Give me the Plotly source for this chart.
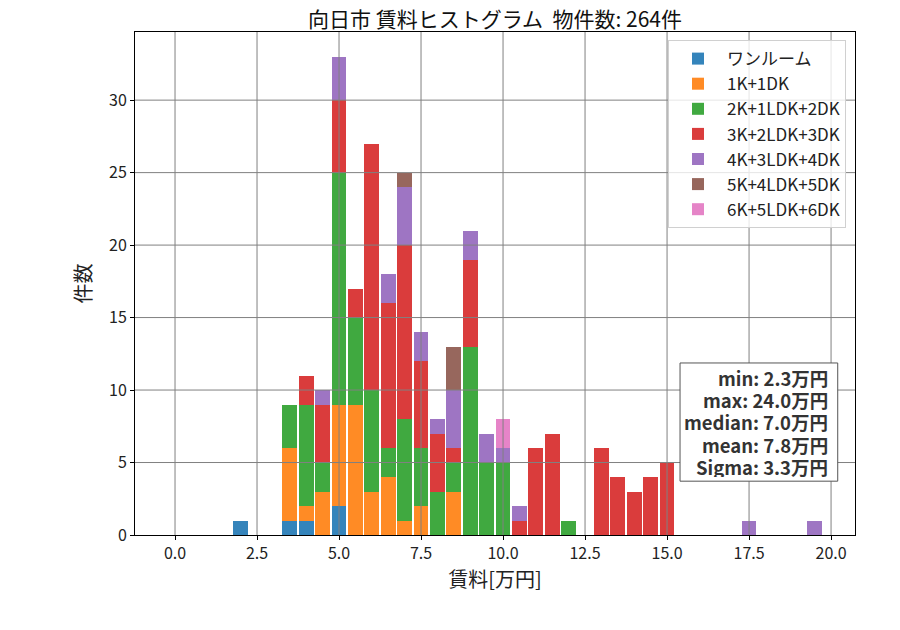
import plotly.graph_objects as go

# bin centers [万円]
bins = [2.0, 2.5, 3.0, 3.5, 4.0, 4.5, 5.0, 5.5, 6.0, 6.5, 7.0, 7.5,
        8.0, 8.5, 9.0, 9.5, 10.0, 10.5, 11.0, 11.5, 12.0, 12.5, 13.0, 13.5,
        14.0, 14.5, 15.0, 15.5, 16.0, 16.5, 17.0, 17.5, 18.0, 18.5, 19.0, 19.5]

oneroom = [1, 0, 0, 1, 1, 0, 2, 0, 0, 0, 0, 0, 0, 0, 0, 0, 0, 0,
           0, 0, 0, 0, 0, 0, 0, 0, 0, 0, 0, 0, 0, 0, 0, 0, 0, 0]
k1 = [0, 0, 0, 5, 1, 3, 7, 9, 3, 4, 1, 2, 0, 3, 0, 0, 0, 0,
      0, 0, 0, 0, 0, 0, 0, 0, 0, 0, 0, 0, 0, 0, 0, 0, 0, 0]
k2 = [0, 0, 0, 3, 7, 2, 16, 6, 7, 2, 7, 4, 3, 2, 13, 5, 5, 0,
      0, 0, 1, 0, 0, 0, 0, 0, 0, 0, 0, 0, 0, 0, 0, 0, 0, 0]
k3 = [0, 0, 0, 0, 2, 4, 5, 2, 17, 10, 12, 6, 4, 1, 6, 0, 0, 1,
      6, 7, 0, 0, 6, 4, 3, 4, 5, 0, 0, 0, 0, 0, 0, 0, 0, 0]
k4 = [0, 0, 0, 0, 0, 1, 3, 0, 0, 2, 4, 2, 1, 4, 2, 2, 1, 1,
      0, 0, 0, 0, 0, 0, 0, 0, 0, 0, 0, 0, 0, 1, 0, 0, 0, 1]
k5 = [0, 0, 0, 0, 0, 0, 0, 0, 0, 0, 1, 0, 0, 3, 0, 0, 0, 0,
      0, 0, 0, 0, 0, 0, 0, 0, 0, 0, 0, 0, 0, 0, 0, 0, 0, 0]
k6 = [0, 0, 0, 0, 0, 0, 0, 0, 0, 0, 0, 0, 0, 0, 0, 0, 2, 0,
      0, 0, 0, 0, 0, 0, 0, 0, 0, 0, 0, 0, 0, 0, 0, 0, 0, 0]

names = ['ワンルーム', '1K+1DK', '2K+1LDK+2DK', '3K+2LDK+3DK',
         '4K+3LDK+4DK', '5K+4LDK+5DK', '6K+5LDK+6DK']
series = [oneroom, k1, k2, k3, k4, k5, k6]
colors = ['#1f77b4', '#ff7f0e', '#2ca02c', '#d62728',
          '#9467bd', '#8c564b', '#e377c2']

stats = ['min: 2.3万円', 'max: 24.0万円', 'median: 7.0万円',
         'mean: 7.8万円', 'Sigma: 3.3万円']

xticks = [0.0, 2.5, 5.0, 7.5, 10.0, 12.5, 15.0, 17.5, 20.0]
yticks = [0, 5, 10, 15, 20, 25, 30]

font = 'Noto Sans CJK JP'

fig = go.Figure()
for name, vals, c in zip(names, series, colors):
    fig.add_trace(go.Bar(x=bins, y=vals, name=name, legendgroup=name, width=0.45,
                         marker=dict(color=c, line_width=0), opacity=0.9))

# grid drawn over the bars like in matplotlib
shapes = []
for v in xticks:
    shapes.append(dict(type='line', xref='x', yref='paper', x0=v, x1=v, y0=0, y1=1,
                       line=dict(color='#808080', width=1), layer='above'))
for v in yticks[1:]:
    shapes.append(dict(type='line', xref='paper', yref='y', x0=0, x1=1, y0=v, y1=v,
                       line=dict(color='#808080', width=1), layer='above'))

# stats text box
shapes.append(dict(type='rect', xref='paper', yref='paper', x0=0.757, x1=0.976,
                   y0=0.107, y1=0.342, fillcolor='white',
                   line=dict(color='#555', width=1), layer='above'))
annos = []
for i, s in enumerate(stats):
    annos.append(dict(text='<b>%s</b>' % s, xref='paper', yref='paper',
                      x=0.9655, y=0.313 - i * 0.0441, xanchor='right', yanchor='middle',
                      showarrow=False, height=21, font=dict(size=18.5, color='#333')))

# page has an 8px body margin, margins compensate for it
fig.update_layout(
    barmode='stack',
    width=900, height=630,
    margin=dict(l=127, r=53, t=24, b=103),
    plot_bgcolor='white', paper_bgcolor='white',
    font=dict(family=font, size=16, color='#222'),
    title=dict(text='向日市 賃料ヒストグラム  物件数: 264件', xref='paper', x=0.5,
               xanchor='center', y=0.981, yanchor='middle',
               font=dict(size=21, color='#111')),
    shapes=shapes,
    annotations=annos,
    legend=dict(x=0.9875, y=0.984, xanchor='right', yanchor='top', traceorder='normal',
                bgcolor='rgba(255,255,255,0.8)', bordercolor='#d0d0d0', borderwidth=1,
                font=dict(size=17), tracegroupgap=3, itemwidth=48),
)
fig.update_xaxes(range=[-1.22, 20.73], tickvals=xticks,
                 ticktext=['%.1f' % v for v in xticks], showgrid=False, zeroline=False,
                 showline=True, linecolor='black', linewidth=1, mirror=True,
                 ticks='outside', ticklen=4, tickcolor='black',
                 title=dict(text='賃料[万円]', font=dict(size=20), standoff=4))
fig.update_yaxes(range=[0, 34.7], tickvals=yticks, showgrid=False, zeroline=False,
                 showline=True, linecolor='black', linewidth=1, mirror=True,
                 ticks='outside', ticklen=4, tickcolor='black',
                 title=dict(text='件数', font=dict(size=20), standoff=12))

fig.write_html("out.html")
